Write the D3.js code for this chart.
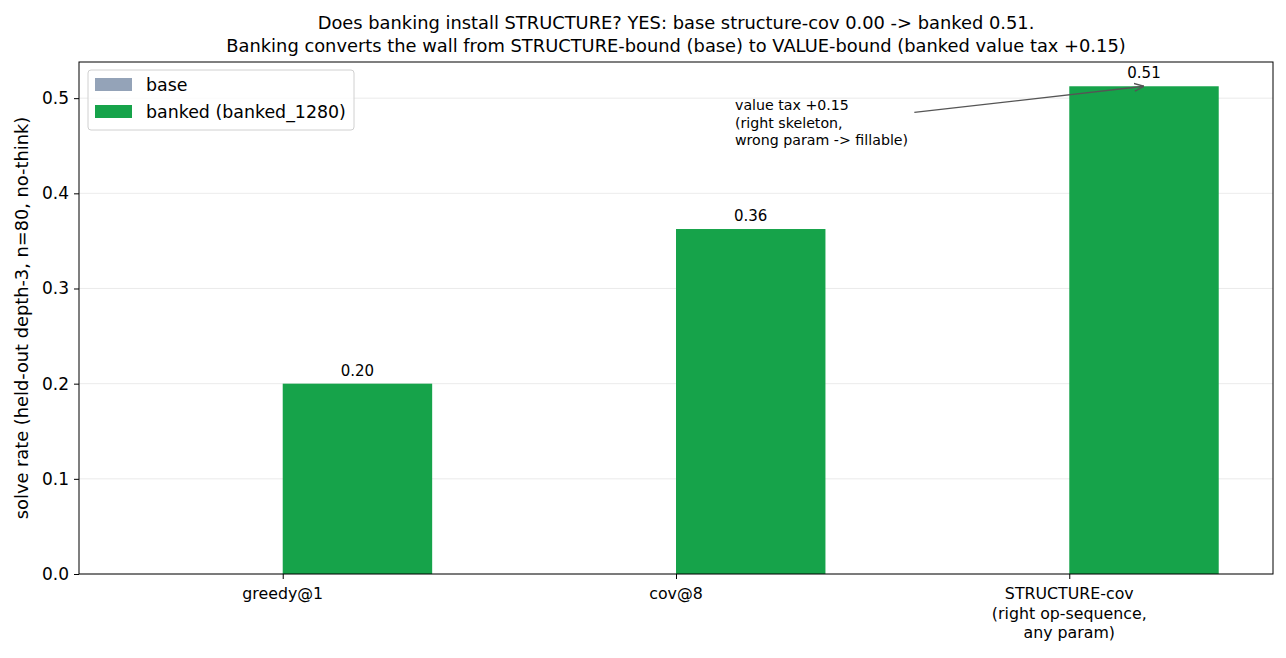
<!DOCTYPE html>
<html>
<head>
<meta charset="utf-8">
<script src="https://cdn.jsdelivr.net/npm/d3@7"></script>
<style>
  body { margin: 0; background: #fff; }
  text { font-family: "DejaVu Sans", sans-serif; }
</style>
</head>
<body>
<script>
// chart data
var categories = ["greedy@1", "cov@8", "STRUCTURE-cov\n(right op-sequence,\nany param)"];
var baseValues = [0.0, 0.0, 0.0];
var bankedValues = [0.2, 0.3625, 0.5125];
var yTicks = [0.0, 0.1, 0.2, 0.3, 0.4, 0.5];
var seriesNames = ["base", "banked (banked_1280)"];
var titleLines = [
  "Does banking install STRUCTURE? YES: base structure-cov 0.00 -> banked 0.51.",
  "Banking converts the wall from STRUCTURE-bound (base) to VALUE-bound (banked value tax +0.15)"
];
var noteLines = ["value tax +0.15", "(right skeleton,", "wrong param -> fillable)"];

var W = 1286, H = 658;
// plot area edges (don't call it "top", that's window.top)
var pLeft = 79, pRight = 1273, pTop = 62, pBottom = 574;
var barW = 0.38;
var colors = ["#94a3b8", "#16a34a"];

var svg = d3.select("body").append("svg")
  .attr("width", W).attr("height", H);

var x = d3.scaleLinear().domain([-0.518, 2.518]).range([pLeft, pRight]);
var y = d3.scaleLinear().domain([0, 0.538]).range([pBottom, pTop]);

// grid
svg.append("g").selectAll("line")
  .data(yTicks).enter().append("line")
  .attr("x1", pLeft).attr("x2", pRight)
  .attr("y1", function(d) { return y(d); })
  .attr("y2", function(d) { return y(d); })
  .style("stroke", "#e6e6e6").style("stroke-width", 0.8);

// bars: base on the left of tick, banked on the right
svg.append("g").selectAll("rect")
  .data(baseValues).enter().append("rect")
  .attr("x", function(d, i) { return x(i - barW); })
  .attr("width", x(barW) - x(0))
  .attr("y", function(d) { return y(d); })
  .attr("height", function(d) { return y(0) - y(d); })
  .style("fill", colors[0]);

svg.append("g").selectAll("rect")
  .data(bankedValues).enter().append("rect")
  .attr("x", function(d, i) { return x(i); })
  .attr("width", x(barW) - x(0))
  .attr("y", function(d) { return y(d); })
  .attr("height", function(d) { return y(0) - y(d); })
  .style("fill", colors[1]);

// value labels
svg.append("g").selectAll("text")
  .data(bankedValues).enter().append("text")
  .attr("x", function(d, i) { return x(i + barW / 2); })
  .attr("y", function(d) { return y(d) - 8; })
  .attr("text-anchor", "middle")
  .style("font-size", "15px")
  .text(function(d) { return d.toFixed(2); });

// axes
var yAxis = d3.axisLeft(y).tickValues(yTicks).tickFormat(d3.format(".1f")).tickSize(5).tickPadding(5);
var gy = svg.append("g").attr("transform", "translate(" + pLeft + ",0)").call(yAxis);
gy.select(".domain").remove();
gy.selectAll("text").style("font-size", "17px").style("fill", "#000");
gy.selectAll("line").style("stroke", "#000");

var xAxis = d3.axisBottom(x).tickValues([0, 1, 2]).tickFormat("").tickSize(5);
var gx = svg.append("g").attr("transform", "translate(0," + pBottom + ")").call(xAxis);
gx.select(".domain").remove();
gx.selectAll("line").style("stroke", "#000");

var xl = svg.append("g").selectAll("text")
  .data(categories).enter().append("text")
  .attr("text-anchor", "middle")
  .attr("transform", function(d, i) { return "translate(" + x(i) + "," + (pBottom + 25) + ")"; })
  .style("font-size", "15.8px");
xl.selectAll("tspan")
  .data(function(d) { return d.split("\n"); }).enter().append("tspan")
  .attr("x", 0).attr("dy", function(d, i) { return i === 0 ? 0 : 19.5; })
  .text(function(d) { return d; });

// frame
svg.append("rect")
  .attr("x", pLeft).attr("y", pTop)
  .attr("width", pRight - pLeft).attr("height", pBottom - pTop)
  .style("fill", "none").style("stroke", "#000").style("stroke-width", 1);

// y label
svg.append("text")
  .attr("transform", "translate(28," + ((pTop + pBottom) / 2) + ") rotate(-90)")
  .attr("text-anchor", "middle")
  .style("font-size", "17.8px")
  .text("solve rate (held-out depth-3, n=80, no-think)");

// title
svg.append("g").selectAll("text")
  .data(titleLines).enter().append("text")
  .attr("x", (pLeft + pRight) / 2)
  .attr("y", function(d, i) { return 29 + i * 22.5; })
  .attr("text-anchor", "middle")
  .style("font-size", "17.85px")
  .text(function(d) { return d; });

// legend
var lg = svg.append("g").attr("transform", "translate(88,70)");
lg.append("rect").attr("width", 266).attr("height", 60).attr("rx", 3)
  .style("fill", "#fff").style("fill-opacity", 0.8)
  .style("stroke", "#d0d0d0");
seriesNames.forEach(function(s, i) {
  lg.append("rect").attr("x", 7).attr("y", 8 + i * 27).attr("width", 37).attr("height", 13)
    .style("fill", colors[i]);
  lg.append("text").attr("x", 58).attr("y", 21 + i * 27)
    .style("font-size", "17.4px").text(s);
});

// annotation
svg.append("defs").append("marker")
  .attr("id", "ah").attr("viewBox", "0 0 10 10").attr("refX", 10).attr("refY", 5)
  .attr("markerWidth", 10).attr("markerHeight", 10).attr("markerUnits", "userSpaceOnUse")
  .attr("orient", "auto")
  .append("path").attr("d", "M0,1 L10,5 L0,9")
  .style("fill", "none").style("stroke", "#555").style("stroke-width", 1.3);

svg.append("line")
  .attr("x1", x(1.606)).attr("y1", y(0.485))
  .attr("x2", x(2.19)).attr("y2", y(0.5125))
  .style("stroke", "#555").style("stroke-width", 1.3)
  .attr("marker-end", "url(#ah)");

svg.append("g").selectAll("text")
  .data(noteLines).enter().append("text")
  .attr("x", x(1.15))
  .attr("y", function(d, i) { return y(0.4875) + i * 17.5; })
  .style("font-size", "14.2px")
  .text(function(d) { return d; });
</script>
</body>
</html>
